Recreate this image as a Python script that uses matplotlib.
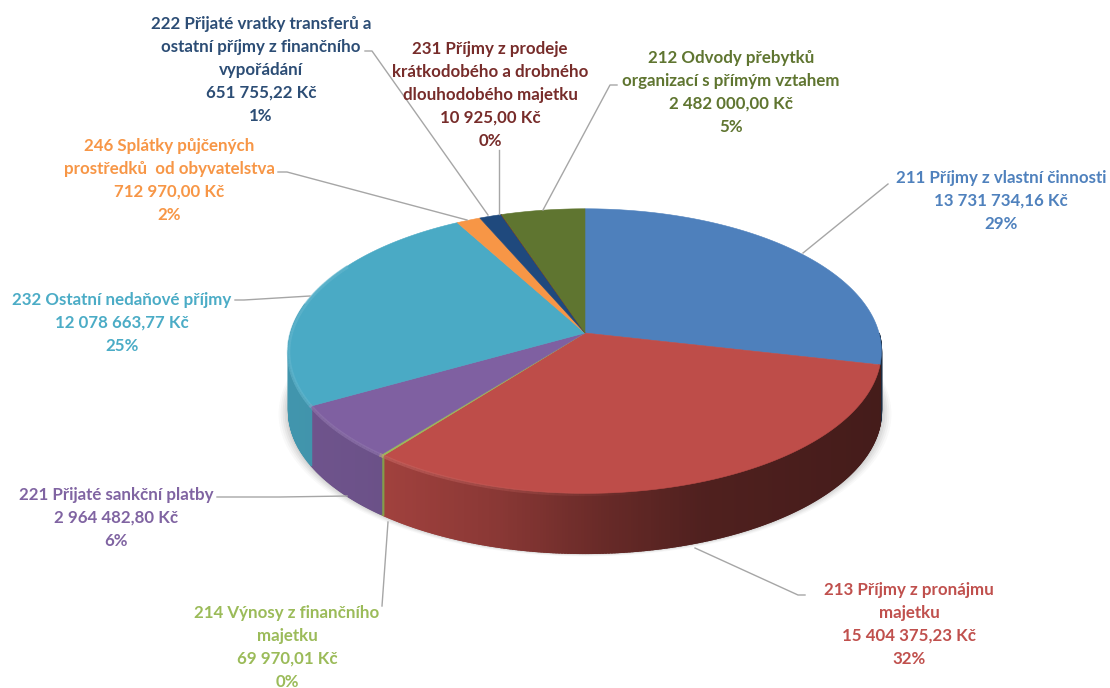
import numpy as np
import matplotlib
matplotlib.use("Agg")
import matplotlib.pyplot as plt

# slices, clockwise from the top
codes = ["211", "213", "214", "221", "232", "246", "222", "231", "212"]
values = [13731734.16, 15404375.23, 69970.01, 2964482.80, 12078663.77,
          712970.00, 651755.22, 10925.00, 2482000.00]
slice_colors = ["#4e80bc", "#be4d49", "#9bbb59", "#7f60a1", "#4aaac5",
                "#f79646", "#1f497d", "#772c2a", "#5f7530"]
text_colors = ["#4f81bd", "#c0504d", "#9bbb59", "#8064a2", "#4bacc6",
               "#f79646", "#2c4d75", "#772c2a", "#5f7530"]

label_lines = [
    ["211 Příjmy z vlastní činnosti", "13 731 734,16 Kč", "29%"],
    ["213 Příjmy z pronájmu", "majetku", "15 404 375,23 Kč", "32%"],
    ["214 Výnosy z finančního", "majetku", "69 970,01 Kč", "0%"],
    ["221 Přijaté sankční platby", "2 964 482,80 Kč", "6%"],
    ["232 Ostatní nedaňové příjmy", "12 078 663,77 Kč", "25%"],
    ["246 Splátky půjčených", "prostředků  od obyvatelstva", "712 970,00 Kč", "2%"],
    ["222 Přijaté vratky transferů a", "ostatní příjmy z finančního", "vypořádání",
     "651 755,22 Kč", "1%"],
    ["231 Příjmy z prodeje", "krátkodobého a drobného", "dlouhodobého majetku",
     "10 925,00 Kč", "0%"],
    ["212 Odvody přebytků", "organizací s přímým vztahem", "2 482 000,00 Kč", "5%"],
]

# label centre x, first line y (pixels)
label_pos = [(1001, 178), (909, 590), (287, 613), (116, 495), (122, 300),
             (169, 146), (261, 24), (490, 49), (731, 58)]
line_gap = 23

leaders = [
    [(888, 184), (803, 253)],
    [(805, 595), (798, 595), (695, 548)],
    [(382, 606), (388, 522)],
    [(217, 497), (280, 497), (347, 496)],
    [(235, 300), (244, 300), (310, 296)],
    [(278, 172), (287, 172), (467, 220)],
    [(365, 51), (372, 51), (488, 215)],
    [(499, 150), (499, 214)],
    [(617, 85), (610, 85), (543, 210)],
]

# pie geometry, projected disc seen in perspective
cx, cy = 585, 333
rx, ry = 294, 140
persp = 0.127
depth = 60


def rim(deg):
    a = np.radians(deg)
    u, v = np.sin(a), np.cos(a)
    w = 1 + persp * v
    return cx + rx * u / w, cy - ry * v / w


def shade(col, f):
    rgb = np.array(matplotlib.colors.to_rgb(col))
    if f > 1:
        return tuple(rgb + (1 - rgb) * (f - 1))
    return tuple(rgb * f)


def wall_level(x):
    return np.interp(x, [288, 390, 500, 600, 700, 880], [0.88, 0.84, 0.72, 0.55, 0.42, 0.36])


fig = plt.figure(figsize=(11.1, 6.88), dpi=100)
ax = fig.add_axes([0, 0, 1, 1])
ax.set_xlim(0, 1110)
ax.set_ylim(688, 0)
ax.axis("off")

shares = np.array(values) / np.sum(values) * 360
ends = np.cumsum(shares)
starts = ends - shares

# soft shadow under the disc
all_x, all_y = rim(np.arange(0, 361))
for grow, alpha in zip([10, 8, 6, 4, 2], [0.03, 0.04, 0.05, 0.06, 0.08]):
    ax.fill(cx + (all_x - cx) * (1 + grow / 297), all_y + depth + grow * 0.3,
            color="#404040", alpha=alpha, lw=0, zorder=1)

# side wall, only the part facing the viewer
for s, e, col in zip(starts, ends, slice_colors):
    s2, e2 = max(s, 90), min(e, 282)
    if e2 <= s2:
        continue
    steps = np.arange(s2, e2 + 0.5, 0.5)
    steps[-1] = e2
    for a0, a1 in zip(steps[:-1], steps[1:]):
        x0, y0 = rim(a0)
        x1, y1 = rim(a1 + 0.3)
        c = shade(col, wall_level((x0 + x1) / 2))
        ax.fill([x0, x1, x1, x0], [y0, y1, y1 + depth, y0 + depth],
                facecolor=c, edgecolor=c, lw=1.0, zorder=2)

# top face
for s, e, col in zip(starts, ends, slice_colors):
    angs = np.linspace(s, e, max(int(e - s) * 2, 2))
    xs, ys = rim(angs)
    ax.fill(np.r_[cx, xs], np.r_[cy, ys], facecolor=col, edgecolor=col, lw=0.4, zorder=3)

# rounded rim highlight on the lit side
for s, e, col in zip(starts, ends, slice_colors):
    s2, e2 = max(s, 170), min(e, 300)
    if e2 <= s2:
        continue
    steps = np.arange(s2, e2 + 1, 1.0)
    for a0, a1 in zip(steps[:-1], steps[1:]):
        mid = (a0 + a1) / 2
        strength = np.clip((mid - 170) / 50, 0, 1)
        xs, ys = rim(np.array([a0, a1]))
        ax.plot(xs, ys + 1, color=shade(col, 1.15), lw=2.5, alpha=0.6 * strength,
                solid_capstyle="butt", zorder=4)

# leader lines
for pts in leaders:
    px, py = zip(*pts)
    ax.plot(px, py, color="#a6a6a6", lw=1.0, zorder=5)

# data labels
for lines, (lx, ly), col in zip(label_lines, label_pos, text_colors):
    for i, line in enumerate(lines):
        ax.text(lx, ly + i * line_gap, line, color=col, ha="center", va="center",
                fontsize=12.2, fontweight="bold", family=["Lato", "DejaVu Sans"], zorder=6)

fig.savefig("out.png", dpi=100, facecolor="white")
